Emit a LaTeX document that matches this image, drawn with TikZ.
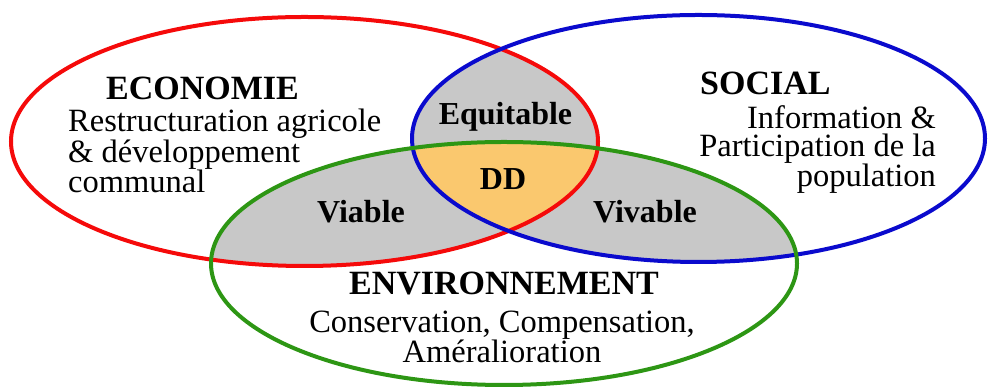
\documentclass[tikz,border=0pt]{standalone}
\usepackage{fontspec}
\setmainfont{Liberation Serif}
\definecolor{ecored}{RGB}{245,10,10}
\definecolor{socblue}{RGB}{10,10,205}
\definecolor{envgreen}{RGB}{45,150,20}
\definecolor{overlap}{RGB}{200,200,200}
\definecolor{core}{RGB}{250,200,110}
\begin{document}
\begin{tikzpicture}[x=1pt,y=1pt,
  ring/.style={line width=4pt},
  heading/.style={font=\fontsize{34}{34}\selectfont\bfseries, inner sep=0pt},
  body/.style={font=\fontsize{32.5}{28}\selectfont, inner sep=0pt},
  zone/.style={font=\fontsize{32}{32}\selectfont\bfseries, inner sep=0pt}]
\useasboundingbox (0,0) rectangle (988,387);
% the three circles of sustainable development
\def\ecoshape{(304.5,245.5) ellipse (293.5 and 124.5)}
\def\socshape{(698.5,248.5) ellipse (286.5 and 123.5)}
\def\envshape{(504,123.5) ellipse (293 and 121.5)}
% pairwise overlaps
\begin{scope}\clip \ecoshape; \fill[overlap] \socshape; \end{scope}
\begin{scope}\clip \ecoshape; \fill[overlap] \envshape; \end{scope}
\begin{scope}\clip \socshape; \fill[overlap] \envshape; \end{scope}
% common core
\begin{scope}\clip \ecoshape; \clip \socshape; \fill[core] \envshape; \end{scope}
% outlines
\draw[ring, ecored] \ecoshape;
\draw[ring, socblue] \socshape;
\draw[ring, envgreen] \envshape;
% texts (multi-line blocks are anchored on their last line)
\node[heading, anchor=base] (eco) at (202.5,287) {ECONOMIE};
\node[body, anchor=base west, align=left] (ecotxt) at (68,194)
  {Restructuration agricole\\\& développement\\communal};
\node[heading, anchor=base west] (soc) at (700,292) {SOCIAL};
\node[body, anchor=base east, align=right] (soctxt) at (936,200)
  {Information \&\\Participation de la\\population};
\node[heading, anchor=base] (env) at (504,92) {ENVIRONNEMENT};
\node[body, anchor=base, align=center] (envtxt) at (502,24)
  {Conservation, Compensation,\\Améralioration};
\node[zone, anchor=base] (equi) at (505.5,262) {Equitable};
\node[zone, anchor=base] (dd) at (503,197) {DD};
\node[zone, anchor=base] (via) at (361,164) {Viable};
\node[zone, anchor=base] (viv) at (645,164) {Vivable};
\end{tikzpicture}
\end{document}
